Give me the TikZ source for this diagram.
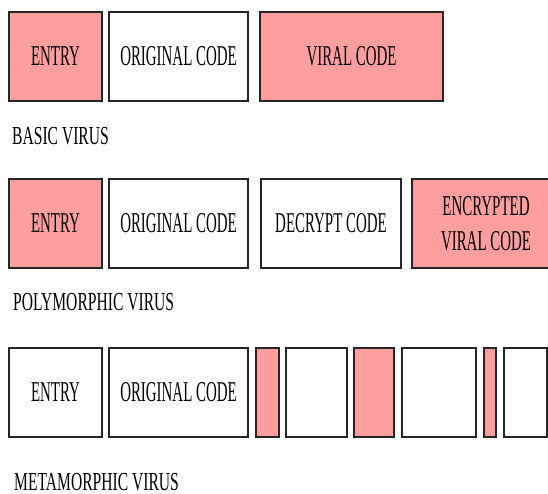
\documentclass[tikz,border=0pt]{standalone}
\usepackage{fontspec}
\setmainfont{Liberation Serif}
\newfontfamily\cellfont[FakeStretch=0.52]{Liberation Serif}
\newfontfamily\rowfont[FakeStretch=0.6]{Liberation Serif}
\definecolor{viralpink}{RGB}{255,158,158}

\begin{document}
\begin{tikzpicture}[
  x=1pt, y=-1pt,
  cell/.style={draw=black!85, line width=1.2pt,
               inner sep=0pt, outer sep=0pt,
               minimum height=89pt, align=center,
               font=\cellfont\fontsize{28.7}{35}\selectfont},
  plain/.style={cell, fill=white},
  viral/.style={cell, fill=viralpink},
  rowlbl/.style={anchor=base west, inner sep=0pt,
                 font=\rowfont\fontsize{26}{30}\selectfont},
]
\clip (0,0) rectangle (548,494);

\def\ra{56.5}   % row centres
\def\rb{223.5}
\def\rc{392.5}

%% --- basic virus ---
\node[viral, minimum width=93pt]  (bentry) at (55.5,\ra)  {ENTRY};
\node[plain, minimum width=139pt] (borig)  at (178.5,\ra) {ORIGINAL CODE};
\node[viral, minimum width=183pt] (bviral) at (351.5,\ra) {VIRAL CODE};
\node[rowlbl] (blbl) at (12,145) {BASIC VIRUS};

%% --- polymorphic virus ---
\node[viral, minimum width=93pt]  (pentry)   at (55.5,\rb)  {ENTRY};
\node[plain, minimum width=139pt] (porig)    at (178.5,\rb) {ORIGINAL CODE};
\node[plain, minimum width=140pt] (pdecrypt) at (331,\rb)   {DECRYPT CODE};
\node[viral, minimum width=148pt] (pencrypt) at (486,\rb)   {ENCRYPTED\\VIRAL CODE};
\node[rowlbl] (plbl) at (13,310) {POLYMORPHIC VIRUS};

%% --- metamorphic virus: viral code scattered in pieces ---
\node[plain, minimum width=93pt]  (mentry) at (55.5,\rc)  {ENTRY};
\node[plain, minimum width=139pt] (morig)  at (178.5,\rc) {ORIGINAL CODE};
\node[viral, minimum width=23pt]  (mva)    at (267.5,\rc) {};
\node[plain, minimum width=61pt]  (mpa)    at (316.5,\rc) {};
\node[viral, minimum width=40pt]  (mvb)    at (374,\rc)   {};
\node[plain, minimum width=74pt]  (mpb)    at (439,\rc)   {};
\node[viral, minimum width=12pt]  (mvc)    at (490,\rc)   {};
\node[plain, minimum width=43pt]  (mpc)    at (525.5,\rc) {};
\node[rowlbl] (mlbl) at (14,490) {METAMORPHIC VIRUS};

\end{tikzpicture}
\end{document}
